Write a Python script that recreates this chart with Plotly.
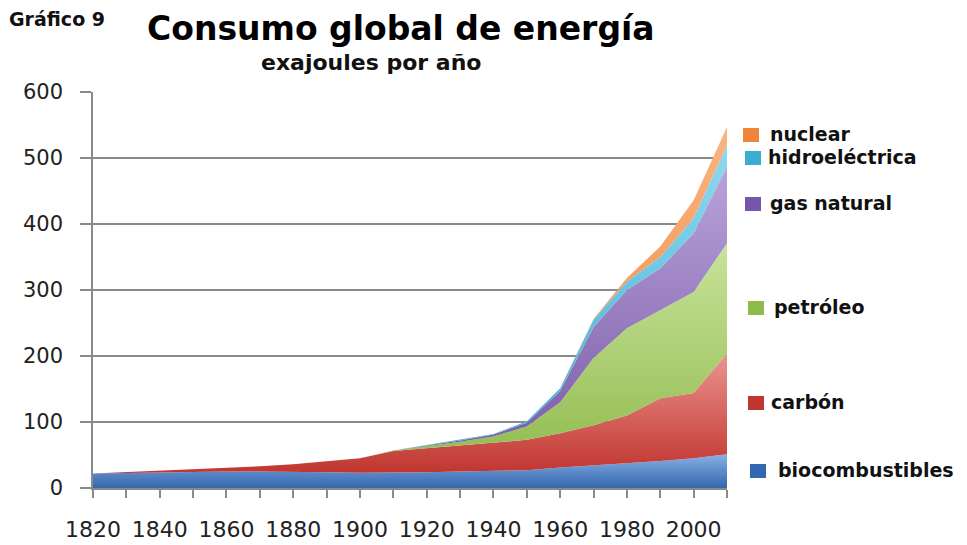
import numpy as np
import plotly.graph_objects as go

# Decades covered by the series
years = list(range(1820, 2011, 10))

# Global energy consumption by source, exajoules per year
biocombustibles = [22, 23, 24, 24, 25, 25, 25, 24, 23, 23, 24, 25, 26, 27, 31, 34, 37, 41, 45, 51]
carbon = [0, 1, 3, 5, 6, 8, 11, 16, 22, 33, 36, 39, 42, 46, 52, 61, 73, 95, 99, 153]
petroleo = [0, 0, 0, 0, 0, 0, 0, 0, 0, 1, 3, 6, 10, 20, 47, 102, 132, 134, 153, 167]
gas_natural = [0, 0, 0, 0, 0, 0, 0, 0, 0, 0, 1, 2, 3, 6, 17, 47, 58, 63, 89, 116]
hidroelectrica = [0, 0, 0, 0, 0, 0, 0, 0, 0, 0, 1, 1, 1, 2, 4, 11, 13, 17, 23, 33]
nuclear = [0, 0, 0, 0, 0, 0, 0, 0, 0, 0, 0, 0, 0, 0, 0, 1, 5, 16, 27, 27]

series_names = ["biocombustibles", "carbón", "petróleo", "gas natural", "hidroeléctrica", "nuclear"]
series_values = [biocombustibles, carbon, petroleo, gas_natural, hidroelectrica, nuclear]

x_tick_labels = [str(y) if y % 20 == 0 else "" for y in years]
y_tick_values = [0, 100, 200, 300, 400, 500, 600]

# (dark, light) gradient pairs per series, bottom to top
gradients = [
    ("#3467b0", "#88b0e4"),
    ("#c0352f", "#ec9490"),
    ("#8fba4c", "#c8e39a"),
    ("#7656a6", "#b9a3d9"),
    ("#3aaed0", "#90d8ee"),
    ("#f0853a", "#f9b480"),
]

# legend block: swatch left edge, swatch centre y, text left edge (pixels)
legend_rows = {
    "nuclear": (743, 135, 768),
    "hidroeléctrica": (745, 158, 766),
    "gas natural": (745, 204, 768),
    "petróleo": (748, 308, 772),
    "carbón": (748, 403, 769),
    "biocombustibles": (750, 471, 776),
}

W, H = 967, 545
ML, MR, MT, MB = 93, 240, 92, 57
PW, PH = W - ML - MR, H - MT - MB


def px_x(px):
    return (px - ML) / PW


def px_y(py):
    return (H - MB - py) / PH


fig = go.Figure()

lower = np.zeros(len(years))
for name, vals, (dark, light) in zip(series_names, series_values, gradients):
    vals = np.array(vals, dtype=float)
    upper = lower + vals
    fig.add_trace(go.Scatter(
        x=years, y=vals, name=name, stackgroup="energia", mode="lines",
        line=dict(width=0, color=dark),
        fillgradient=dict(type="vertical",
                          colorscale=[[0, dark], [1, light]],
                          start=float(lower.min()), stop=float(upper.max())),
        showlegend=False,
    ))
    lower = upper

grid_col = "#8a8a8a"
tick_font = dict(family="DejaVu Sans", size=21, color="#222222")

fig.update_xaxes(
    range=[1820, 2010], tickmode="array", tickvals=years, ticktext=x_tick_labels,
    showgrid=False, showline=True, linecolor=grid_col, linewidth=1.5,
    ticks="outside", ticklen=8, tickcolor=grid_col, tickwidth=1.5,
    tickfont=dict(family="DejaVu Sans", size=22, color="#222222"),
    ticklabelstandoff=13, zeroline=False, automargin=False,
)
fig.update_yaxes(
    range=[0, 600], tickvals=y_tick_values,
    showgrid=True, gridcolor=grid_col, gridwidth=1.5,
    showline=True, linecolor=grid_col, linewidth=1.5,
    ticks="outside", ticklen=11, tickcolor=grid_col, tickwidth=1.5,
    tickfont=tick_font, ticklabelstandoff=13, zeroline=False, automargin=False,
)

annotations = [
    dict(text="<b>Gráfico 9</b>", x=px_x(7), y=px_y(19), xanchor="left", yanchor="middle",
         font=dict(family="DejaVu Sans", size=19, color="#111111")),
    dict(text="<b>Consumo global de energía</b>", x=px_x(401), y=px_y(28), xanchor="center",
         yanchor="middle", font=dict(family="DejaVu Sans", size=33, color="#000000")),
    dict(text="<b>exajoules por año</b>", x=px_x(371), y=px_y(62), xanchor="center",
         yanchor="middle", font=dict(family="DejaVu Sans", size=22, color="#111111")),
]
shapes = []
for name, (dark, light) in zip(series_names, gradients):
    sx, sy, tx = legend_rows[name]
    shapes.append(dict(type="rect", xref="paper", yref="paper",
                       x0=px_x(sx), x1=px_x(sx + 16), y0=px_y(sy + 7), y1=px_y(sy - 7),
                       fillcolor=dark, line=dict(width=0)))
    annotations.append(dict(text=f"<b>{name}</b>", x=px_x(tx), y=px_y(sy - 1),
                            xanchor="left", yanchor="middle",
                            font=dict(family="DejaVu Sans", size=19, color="#111111")))

for a in annotations:
    a.update(xref="paper", yref="paper", showarrow=False)

fig.update_layout(
    width=W, height=H, margin=dict(l=ML, r=MR, t=MT, b=MB),
    paper_bgcolor="white", plot_bgcolor="white",
    annotations=annotations, shapes=shapes, showlegend=False,
)

fig.write_html("out.html")
